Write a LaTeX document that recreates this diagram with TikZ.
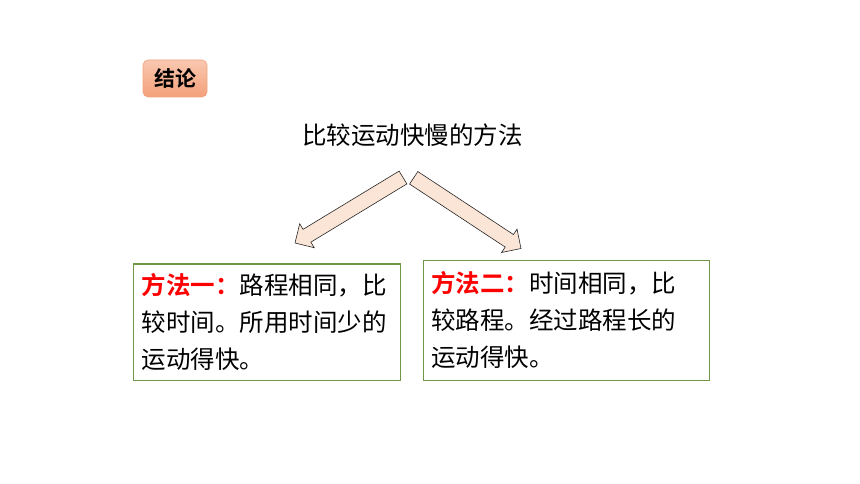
\documentclass[tikz,border=0pt]{standalone}
\usepackage{fontspec}
\setmainfont{Noto Sans CJK SC}[BoldFont={Noto Sans CJK SC Bold}]
\usetikzlibrary{calc}
\definecolor{boxgreen}{RGB}{112,150,72}
\definecolor{peach}{RGB}{251,229,214}
\definecolor{badgetop}{RGB}{249,200,176}
\definecolor{badgebot}{RGB}{244,160,122}
\definecolor{badgeline}{RGB}{240,165,125}
\definecolor{methodred}{RGB}{255,0,0}
\tikzset{
  methodbox/.style={draw=boxgreen, line width=1.2pt, minimum width=267pt, minimum height=116.5pt,
    text width=251pt, align=left, inner xsep=8pt, inner ysep=0pt,
    font=\fontsize{24.5pt}{37pt}\selectfont},
  badge/.style={draw=badgeline, line width=0.6pt, rounded corners=5pt, top color=badgetop, bottom color=badgebot,
    minimum width=64pt, minimum height=37pt, inner sep=0pt, font=\fontsize{21pt}{21pt}\selectfont\bfseries},
  titletext/.style={font=\fontsize{24.5pt}{24.5pt}\selectfont, inner sep=0pt},
  fatarrow/.style={draw=black!85, line width=0.6pt, fill=peach, line join=miter},
  redlabel/.style={text=methodred, font=\bfseries}
}
\begin{document}
\begin{tikzpicture}[x=1pt,y=-1pt]
\useasboundingbox (0,0) rectangle (860,484);
\node[badge] (badge) at (175,78.5) {结论};
\node[titletext] (title) at (412.5,135) {比较运动快慢的方法};
\node[methodbox] (m1) at (267.25,322.25) {{\color{methodred}\bfseries 方法一：}路程相同，比\\较时间。所用时间少的\\运动得快。};
\node[methodbox, minimum width=286.5pt, minimum height=120.5pt, text width=270.5pt] (m2) at (566.5,320.35) {{\color{methodred}\bfseries 方法二：}时间相同，比\\较路程。经过路程长的\\运动得快。};
\coordinate (T1) at (403,177.5);
\coordinate (P1) at (295,243);
\coordinate (T2) at (413.7,177.8);
\coordinate (P2) at (521,248.5);
\foreach \t/\p in {T1/P1, T2/P2}{
  \coordinate (H) at ($(\p)!14pt!(\t)$);
  \draw[fatarrow] ($(\t)!7.5pt!90:(\p)$) -- ($(H)!7.5pt!90:(\p)$) -- ($(H)!14pt!90:(\p)$) -- (\p)
    -- ($(H)!14pt!-90:(\p)$) -- ($(H)!7.5pt!-90:(\p)$) -- ($(\t)!7.5pt!-90:(\p)$) -- cycle;
}
\end{tikzpicture}
\end{document}
